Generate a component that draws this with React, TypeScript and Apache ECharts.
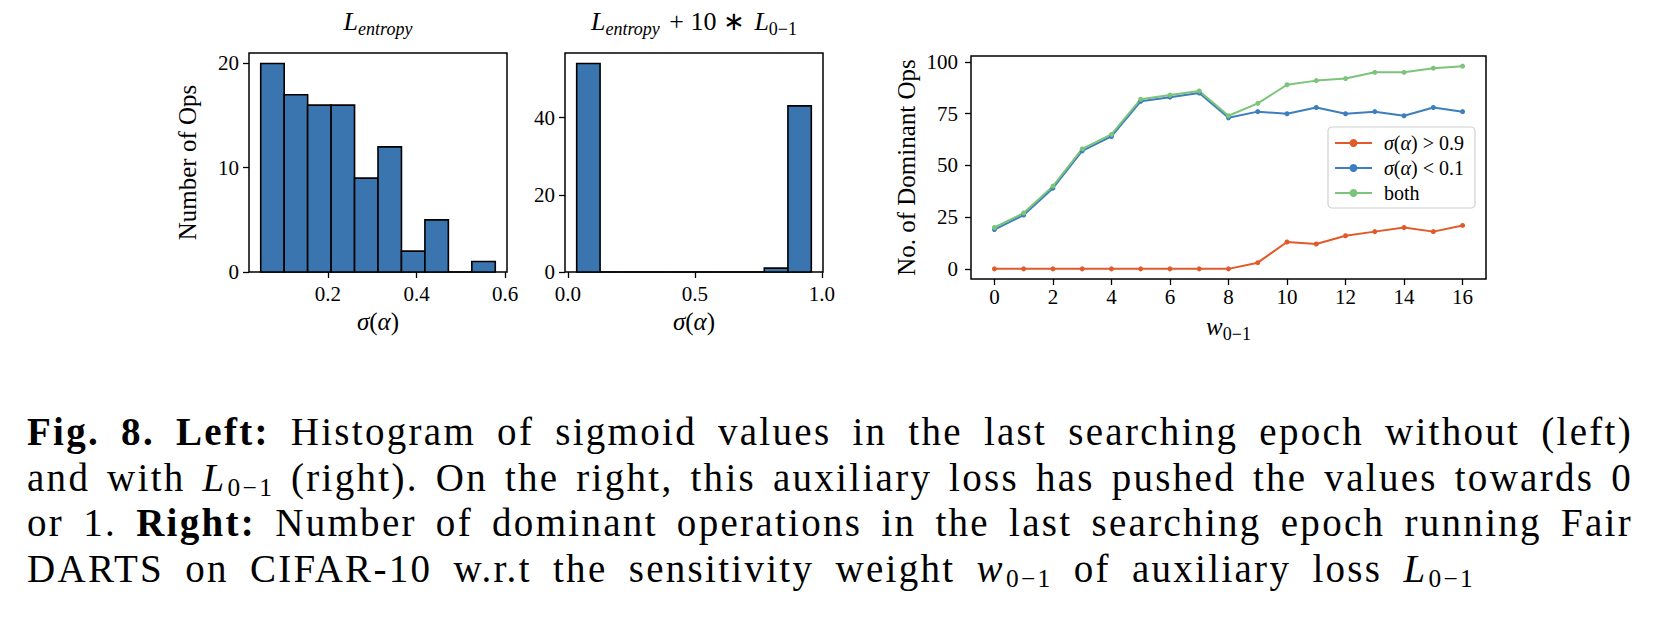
import React, { useEffect, useRef } from "react";
import * as echarts from "echarts";

// ---------- data ----------
const leftBinEdges = [0.048, 0.101, 0.154, 0.207, 0.26, 0.313, 0.366, 0.419, 0.472, 0.525, 0.578];
const leftCounts = [20, 17, 16, 16, 9, 12, 2, 5, 0, 1];
const rightBinEdges = [0.035, 0.127, 0.22, 0.312, 0.404, 0.497, 0.589, 0.681, 0.773, 0.866, 0.958];
const rightCounts = [54, 0, 0, 0, 0, 0, 0, 0, 1, 43];

const weights = [0, 1, 2, 3, 4, 5, 6, 7, 8, 9, 10, 11, 12, 13, 14, 15, 16];
const above09 = [0, 0, 0, 0, 0, 0, 0, 0, 0, 3, 13, 12, 16, 18, 20, 18, 21];
const below01 = [19, 26, 39, 57, 64, 81, 83, 85, 73, 76, 75, 78, 75, 76, 74, 78, 76];
const bothOps = [20, 27, 40, 58, 65, 82, 84, 86, 74, 80, 89, 91, 92, 95, 95, 97, 98];
const seriesNames = ["σ(α) > 0.9", "σ(α) < 0.1", "both"];

const leftXTicks = [0.2, 0.4, 0.6];
const leftYTicks = [0, 10, 20];
const rightXTicks = [0, 0.5, 1.0];
const rightYTicks = [0, 20, 40];
const lineXTicks = [0, 2, 4, 6, 8, 10, 12, 14, 16];
const lineYTicks = [0, 25, 50, 75, 100];

// ---------- style ----------
const SERIF = '"Liberation Serif", "Times New Roman", serif';
const BAR = "#3a75b0";
const ORANGE = "#e2592a";
const BLUE = "#3c7ebf";
const GREEN = "#7cc47a";
const TICK_FS = 21;
const NAME_FS = 25;

const mathRich = (size: number) => ({
  i: { fontFamily: SERIF, fontStyle: "italic", fontSize: size, color: "#000" },
  n: { fontFamily: SERIF, fontSize: size, color: "#000" },
  op: { fontFamily: SERIF, fontSize: size, color: "#000", padding: [0, 3, 0, 3] },
  si: { fontFamily: SERIF, fontStyle: "italic", fontSize: Math.round(size * 0.7), color: "#000", padding: [Math.round(size * 0.6), 0, 0, 0] },
  sn: { fontFamily: SERIF, fontSize: Math.round(size * 0.7), color: "#000", padding: [Math.round(size * 0.6), 0, 0, 0] },
});

function histSeries(edges: number[], counts: number[], idx: number) {
  return {
    type: "custom",
    xAxisIndex: idx,
    yAxisIndex: idx,
    clip: false,
    data: counts.map((c, i) => [edges[i], edges[i + 1], c]),
    encode: { x: [0, 1], y: 2 },
    renderItem: (params: any, api: any) => {
      const p0 = api.coord([api.value(0), api.value(2)]);
      const p1 = api.coord([api.value(1), 0]);
      return {
        type: "rect",
        shape: { x: p0[0], y: p0[1], width: p1[0] - p0[0], height: p1[1] - p0[1] },
        style: { fill: BAR, stroke: "#000", lineWidth: 1.6 },
      };
    },
  };
}

function valueAxis(opts: any) {
  const { idx, min, max, ticks, fmt, name, nameGap, margin, rotateName } = opts;
  return {
    type: "value",
    gridIndex: idx,
    min,
    max,
    splitLine: { show: false },
    axisLine: { show: false, onZero: false },
    axisTick: {
      show: true,
      customValues: ticks,
      length: 6,
      lineStyle: { color: "#000", width: 1.3 },
    },
    axisLabel: {
      customValues: ticks,
      formatter: fmt,
      color: "#000",
      fontFamily: SERIF,
      fontSize: TICK_FS,
      margin,
    },
    name,
    nameLocation: "middle",
    nameGap,
    nameRotate: rotateName ? 90 : 0,
    nameTextStyle: { fontFamily: SERIF, fontSize: NAME_FS, color: "#000", rich: mathRich(NAME_FS) },
  };
}

export default function App() {
  const ref = useRef<HTMLDivElement>(null);

  useEffect(() => {
    if (!ref.current) return;
    const chart = echarts.init(ref.current, undefined, { renderer: "svg" });
    const gridBase = { show: true, borderColor: "#000", borderWidth: 1.5, backgroundColor: "transparent" };
    const lineSeries = (name: string, vals: number[], color: string) => ({
      type: "line",
      name,
      xAxisIndex: 2,
      yAxisIndex: 2,
      data: weights.map((w, i) => [w, vals[i]]),
      symbol: "circle",
      symbolSize: 5,
      showSymbol: true,
      lineStyle: { color, width: 2 },
      itemStyle: { color },
    });

    chart.setOption({
      animation: false,
      grid: [
        { ...gridBase, left: 249, top: 53, width: 258, height: 219 },
        { ...gridBase, left: 565, top: 53, width: 258, height: 219 },
        { ...gridBase, left: 971, top: 56, width: 515, height: 223 },
      ],
      xAxis: [
        valueAxis({ idx: 0, min: 0.0215, max: 0.6045, ticks: leftXTicks, fmt: (v: number) => v.toFixed(1), name: "{i|σ}{n|(}{i|α}{n|)}", nameGap: 37, margin: 11 }),
        valueAxis({ idx: 1, min: -0.011, max: 1.004, ticks: rightXTicks, fmt: (v: number) => v.toFixed(1), name: "{i|σ}{n|(}{i|α}{n|)}", nameGap: 37, margin: 11 }),
        valueAxis({ idx: 2, min: -0.8, max: 16.8, ticks: lineXTicks, fmt: (v: number) => String(v), name: "{i|w}{sn|0−1}", nameGap: 31, margin: 7 }),
      ],
      yAxis: [
        valueAxis({ idx: 0, min: 0, max: 21, ticks: leftYTicks, fmt: (v: number) => String(v), name: "Number of Ops", nameGap: 49, margin: 10, rotateName: true }),
        valueAxis({ idx: 1, min: 0, max: 56.7, ticks: rightYTicks, fmt: (v: number) => String(v), name: "", nameGap: 40, margin: 10, rotateName: true }),
        valueAxis({ idx: 2, min: -4.9, max: 102.9, ticks: lineYTicks, fmt: (v: number) => String(v), name: "No. of Dominant Ops", nameGap: 52, margin: 13, rotateName: true }),
      ],
      legend: {
        data: seriesNames,
        orient: "vertical",
        left: 1328,
        top: 127,
        itemWidth: 37,
        itemHeight: 10,
        itemGap: 5,
        padding: [6, 11, 5, 6],
        backgroundColor: "rgba(255,255,255,0.8)",
        borderColor: "#d0d0d0",
        borderWidth: 1.2,
        borderRadius: 4,
        formatter: (name: string) => name.replace("σ", "{g|σ}").replace("α", "{g|α}"),
        textStyle: {
          fontFamily: SERIF,
          fontSize: 20,
          color: "#000",
          lineHeight: 20,
          padding: [0, 0, 0, 7],
          rich: { g: { fontFamily: SERIF, fontStyle: "italic", fontSize: 20, color: "#000" } },
        },
      },
      graphic: [
        {
          type: "text",
          x: 378,
          y: 21,
          style: {
            text: "{i|L}{si|entropy}",
            rich: mathRich(26),
            align: "center",
            verticalAlign: "middle",
          },
        },
        {
          type: "text",
          x: 694,
          y: 21,
          style: {
            text: "{i|L}{si|entropy}{op| + 10 ∗ }{i|L}{sn|0−1}",
            rich: mathRich(26),
            align: "center",
            verticalAlign: "middle",
          },
        },
      ],
      series: [
        histSeries(leftBinEdges, leftCounts, 0),
        histSeries(rightBinEdges, rightCounts, 1),
        lineSeries(seriesNames[0], above09, ORANGE),
        lineSeries(seriesNames[1], below01, BLUE),
        lineSeries(seriesNames[2], bothOps, GREEN),
      ],
    });
    return () => chart.dispose();
  }, []);

  const capLine: React.CSSProperties = {
    position: "absolute",
    left: 27,
    width: 1606,
    fontFamily: SERIF,
    fontSize: 39,
    letterSpacing: "2.3px",
    lineHeight: "45.5px",
    color: "#000",
    textAlign: "justify",
    textAlignLast: "justify",
  };
  const sub: React.CSSProperties = { fontSize: "0.65em", verticalAlign: "-5px", lineHeight: 0, marginLeft: "1px" };

  return (
    <div style={{ position: "absolute", left: 0, top: 0, width: 1664, height: 630, background: "#fff", overflow: "hidden" }}>
      <div ref={ref} style={{ position: "absolute", left: 0, top: 0, width: 1664, height: 630 }} />
      <div style={{ ...capLine, top: 409 }}>
        <b>Fig. 8. Left:</b> Histogram of sigmoid values in the last searching epoch without (left)
      </div>
      <div style={{ ...capLine, top: 454.5 }}>
        and with <i>L</i><span style={sub}>0−1</span> (right). On the right, this auxiliary loss has pushed the values towards 0
      </div>
      <div style={{ ...capLine, top: 500 }}>
        or 1. <b>Right:</b> Number of dominant operations in the last searching epoch running Fair
      </div>
      <div style={{ ...capLine, top: 545.5, width: 1448 }}>
        DARTS on CIFAR-10 w.r.t the sensitivity weight <i>w</i><span style={sub}>0−1</span> of auxiliary loss <i>L</i><span style={sub}>0−1</span>
      </div>
    </div>
  );
}
